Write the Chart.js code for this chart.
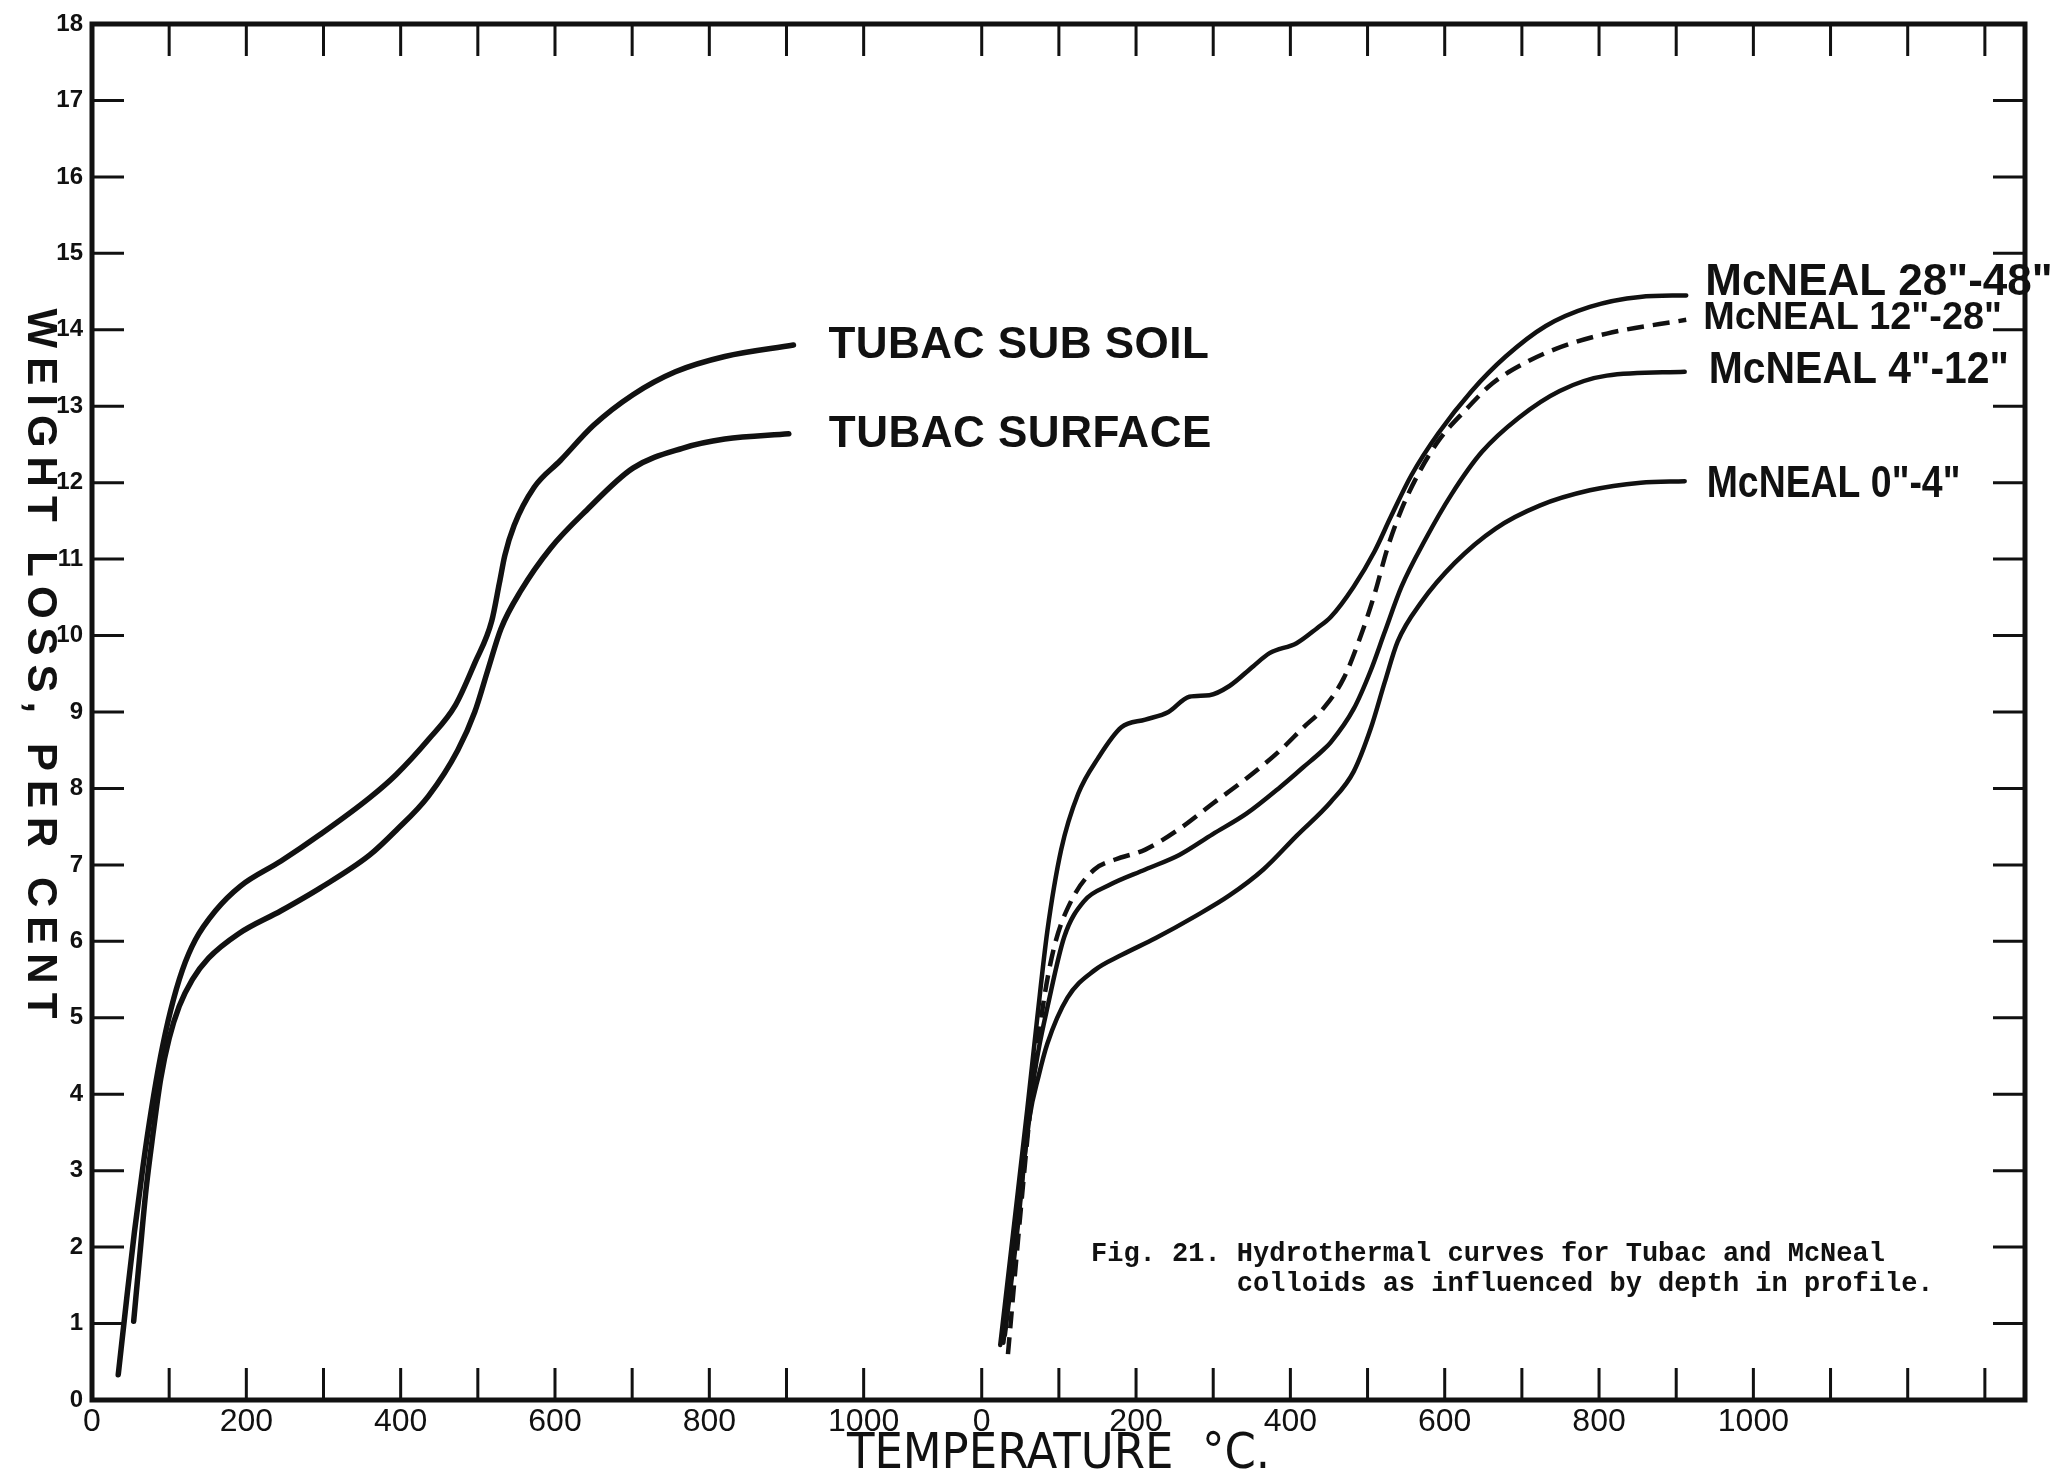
<!DOCTYPE html>
<html lang="en">

<head>
  <meta charset="UTF-8">
  <title>Hydrothermal curves | Tubac and McNeal</title>
  <script src="https://cdn.jsdelivr.net/npm/chart.js"></script>
  <style>
    html, body { margin: 0; padding: 0; background: #fff; }
    .chart-container { position: relative; width: 2056px; height: 1480px; }
  </style>
</head>

<body>

  <div class="chart-container"><canvas id="grafico"></canvas></div>

  <script>
    // both panels share one x axis, the McNeal panel restarts at 0 °C
    const rightStart = 1153;
    const xEnd = 2505;

    const leftTicks = [0, 100, 200, 300, 400, 500, 600, 700, 800, 900, 1000];
    const rightTicks = [0, 100, 200, 300, 400, 500, 600, 700, 800, 900, 1000, 1100, 1200, 1300];
    const labelledTemps = [0, 200, 400, 600, 800, 1000];

    // Tubac (left panel)
    const subSoilTemp = [34, 45, 55, 66, 77, 89, 102, 117, 134, 160, 192, 245, 296, 360, 394, 436, 471, 496, 518, 528, 535, 547, 573, 607, 650, 701, 756, 820, 909];
    const subSoilLoss = [0.33, 1.33, 2.2, 3.05, 3.8, 4.5, 5.1, 5.62, 6.02, 6.4, 6.72, 7.05, 7.4, 7.88, 8.18, 8.64, 9.09, 9.64, 10.19, 10.69, 11.05, 11.44, 11.94, 12.29, 12.75, 13.15, 13.45, 13.65, 13.8];
    const surfaceTemp = [54, 62, 70, 79, 89, 100, 113, 130, 151, 190, 245, 296, 360, 394, 436, 474, 496, 513, 530, 556, 594, 641, 701, 765, 820, 903];
    const surfaceLoss = [1.03, 1.9, 2.75, 3.48, 4.2, 4.73, 5.15, 5.5, 5.78, 6.1, 6.4, 6.7, 7.13, 7.45, 7.9, 8.5, 9.0, 9.55, 10.09, 10.59, 11.14, 11.64, 12.19, 12.45, 12.57, 12.64];

    // McNeal (right panel)
    const mc2848Temp = [24, 42, 59, 72, 85, 103, 125, 151, 181, 212, 242, 269, 295, 321, 352, 373, 408, 435, 452, 482, 509, 530, 557, 592, 635, 679, 731, 788, 853, 913];
    const mc2848Loss = [0.72, 2.3, 3.8, 5.0, 6.13, 7.2, 7.93, 8.4, 8.8, 8.9, 9.0, 9.2, 9.22, 9.34, 9.6, 9.77, 9.9, 10.1, 10.24, 10.64, 11.1, 11.55, 12.1, 12.65, 13.2, 13.65, 14.05, 14.3, 14.43, 14.45];
    const mc1228Temp = [34, 48, 63, 79, 94, 116, 146, 173, 212, 256, 299, 343, 387, 417, 443, 469, 491, 509, 526, 544, 565, 592, 627, 662, 701, 744, 810, 913];
    const mc1228Loss = [0.6, 2.2, 3.8, 5.13, 5.93, 6.53, 6.94, 7.07, 7.2, 7.47, 7.8, 8.13, 8.5, 8.8, 9.05, 9.44, 9.99, 10.54, 11.15, 11.65, 12.1, 12.55, 12.95, 13.3, 13.55, 13.75, 13.95, 14.13];
    const mc412Temp = [30, 47, 63, 74, 85, 107, 133, 164, 212, 256, 299, 343, 387, 417, 440, 452, 482, 504, 522, 544, 574, 609, 648, 696, 749, 810, 911];
    const mc412Loss = [0.85, 2.3, 3.9, 4.6, 5.13, 6.06, 6.53, 6.73, 6.94, 7.13, 7.4, 7.67, 8.02, 8.28, 8.48, 8.6, 9.04, 9.54, 10.04, 10.64, 11.24, 11.85, 12.4, 12.85, 13.2, 13.4, 13.45];
    const mc04Temp = [28, 45, 62, 74, 85, 111, 146, 181, 225, 277, 321, 365, 408, 452, 482, 504, 522, 539, 570, 613, 666, 723, 788, 854, 911];
    const mc04Loss = [0.75, 2.2, 3.7, 4.25, 4.66, 5.26, 5.62, 5.82, 6.04, 6.33, 6.6, 6.94, 7.38, 7.82, 8.22, 8.78, 9.38, 9.92, 10.44, 10.95, 11.4, 11.7, 11.9, 12.0, 12.02];

    const caption = [
      'Fig. 21. Hydrothermal curves for Tubac and McNeal',
      'colloids as influenced by depth in profile.'
    ];

    const ink = '#111';
    const sans = '"Liberation Sans", Arial, sans-serif';
    const narrow = '"Liberation Sans Narrow", "DejaVu Sans Condensed", sans-serif';
    const mono = '"Liberation Mono", "DejaVu Sans Mono", monospace';

    function pontos(temps, losses, offset) {
      return temps.map((t, i) => ({ x: t + offset, y: losses[i] }));
    }

    function curva(nome, temps, losses, offset, extra) {
      return Object.assign({
        label: nome,
        data: pontos(temps, losses, offset),
        borderColor: ink,
        borderWidth: 5.5,
        pointRadius: 0,
        fill: false,
        cubicInterpolationMode: 'monotone',
        borderCapStyle: 'round',
        borderJoinStyle: 'round',
        labelSpacing: '0px',
        labelScaleX: 1
      }, extra);
    }

    const extras = {
      id: 'extras',
      afterDraw(chart) {
        const { ctx, chartArea: a, scales: { x, y } } = chart;
        const tick = 32;
        ctx.save();
        ctx.strokeStyle = ink;
        ctx.fillStyle = ink;

        // ticks point inwards on all four sides
        ctx.lineWidth = 3;
        ctx.beginPath();
        x.ticks.forEach(t => {
          const px = x.getPixelForValue(t.value);
          if (px - a.left < 3) return;
          ctx.moveTo(px, a.bottom); ctx.lineTo(px, a.bottom - tick);
          ctx.moveTo(px, a.top); ctx.lineTo(px, a.top + tick);
        });
        y.ticks.forEach(t => {
          if (t.value === 0 || t.value === 18) return;
          const py = y.getPixelForValue(t.value);
          ctx.moveTo(a.left, py); ctx.lineTo(a.left + tick, py);
          ctx.moveTo(a.right, py); ctx.lineTo(a.right - tick, py);
        });
        ctx.stroke();
        ctx.lineWidth = 5;
        ctx.strokeRect(a.left, a.top, a.right - a.left, a.bottom - a.top);

        // curve names at the end of each line
        ctx.textBaseline = 'middle';
        ctx.textAlign = 'left';
        chart.data.datasets.forEach((ds, i) => {
          const pts = chart.getDatasetMeta(i).data;
          const last = pts[pts.length - 1];
          ctx.save();
          ctx.translate(last.x + ds.labelDx, last.y + ds.labelDy);
          ctx.scale(ds.labelScaleX, 1);
          ctx.font = ds.labelFont;
          ctx.letterSpacing = ds.labelSpacing;
          ctx.fillText(ds.label, 0, 0);
          ctx.restore();
        });

        // y title reads downwards
        ctx.save();
        ctx.translate(40, a.top + (a.bottom - a.top) * 0.468);
        ctx.rotate(Math.PI / 2);
        ctx.textAlign = 'center';
        ctx.font = 'bold 42px ' + sans;
        ctx.letterSpacing = '9px';
        ctx.fillText('WEIGHT LOSS, PER CENT', 0, 0);
        ctx.restore();

        ctx.font = 'bold 27px ' + mono;
        ctx.textBaseline = 'alphabetic';
        const cx = a.right - 934;
        ctx.fillText(caption[0], cx, a.bottom - 139);
        ctx.fillText(caption[1], cx + ctx.measureText('Fig. 21. ').width, a.bottom - 109);
        ctx.restore();
      }
    };

    new Chart(document.getElementById('grafico'), {
      type: 'line',
      data: {
        datasets: [
          curva('TUBAC SUB SOIL', subSoilTemp, subSoilLoss, 0, { labelFont: 'bold 44px ' + sans, labelSpacing: '0.5px', labelDx: 35, labelDy: 1 }),
          curva('TUBAC SURFACE', surfaceTemp, surfaceLoss, 0, { labelFont: 'bold 44px ' + sans, labelSpacing: '0.5px', labelDx: 40, labelDy: 1 }),
          curva('McNEAL 28"-48"', mc2848Temp, mc2848Loss, rightStart, { borderWidth: 4.5, labelFont: 'bold 44px ' + sans, labelDx: 19, labelDy: -13 }),
          curva('McNEAL 12"-28"', mc1228Temp, mc1228Loss, rightStart, { borderWidth: 4.5, borderDash: [17, 9], borderCapStyle: 'butt', labelFont: 'bold 39px ' + sans, labelScaleX: 0.97, labelDx: 17, labelDy: -2 }),
          curva('McNEAL 4"-12"', mc412Temp, mc412Loss, rightStart, { borderWidth: 4.5, labelFont: 'bold 44px ' + sans, labelScaleX: 0.93, labelDx: 24, labelDy: -1 }),
          curva('McNEAL 0"-4"', mc04Temp, mc04Loss, rightStart, { borderWidth: 4.5, labelFont: 'bold 44px ' + sans, labelScaleX: 0.85, labelDx: 22, labelDy: 4 })
        ]
      },
      options: {
        responsive: true,
        maintainAspectRatio: false,
        devicePixelRatio: 1,
        animation: false,
        layout: { padding: { top: 24, right: 31, left: 0, bottom: 0 } },
        plugins: {
          legend: { display: false },
          tooltip: { enabled: false }
        },
        scales: {
          x: {
            type: 'linear',
            min: 0,
            max: xEnd,
            grid: { display: false, drawTicks: false },
            border: { display: false },
            afterBuildTicks: scale => {
              scale.ticks = leftTicks.map(v => ({ value: v }))
                .concat(rightTicks.map(v => ({ value: v + rightStart })));
            },
            afterFit: scale => { scale.height = 80; },
            ticks: {
              autoSkip: false,
              maxRotation: 0,
              padding: 3,
              color: ink,
              font: { family: sans, size: 32 },
              callback: value => {
                const t = value >= rightStart ? Math.round(value - rightStart) : value;
                return labelledTemps.includes(t) ? String(t) : '';
              }
            },
            title: {
              display: true,
              text: 'TEMPERATURE  °C.',
              color: ink,
              font: { family: narrow, size: 50, lineHeight: 1 },
              padding: { top: 0, bottom: 0 }
            }
          },
          y: {
            min: 0,
            max: 18,
            grid: { display: false, drawTicks: false },
            border: { display: false },
            afterFit: scale => { scale.width = 92; },
            ticks: {
              stepSize: 1,
              padding: 9,
              color: ink,
              font: { family: sans, size: 24, weight: 'bold' }
            }
          }
        }
      },
      plugins: [extras]
    });
  </script>

</body>

</html>
